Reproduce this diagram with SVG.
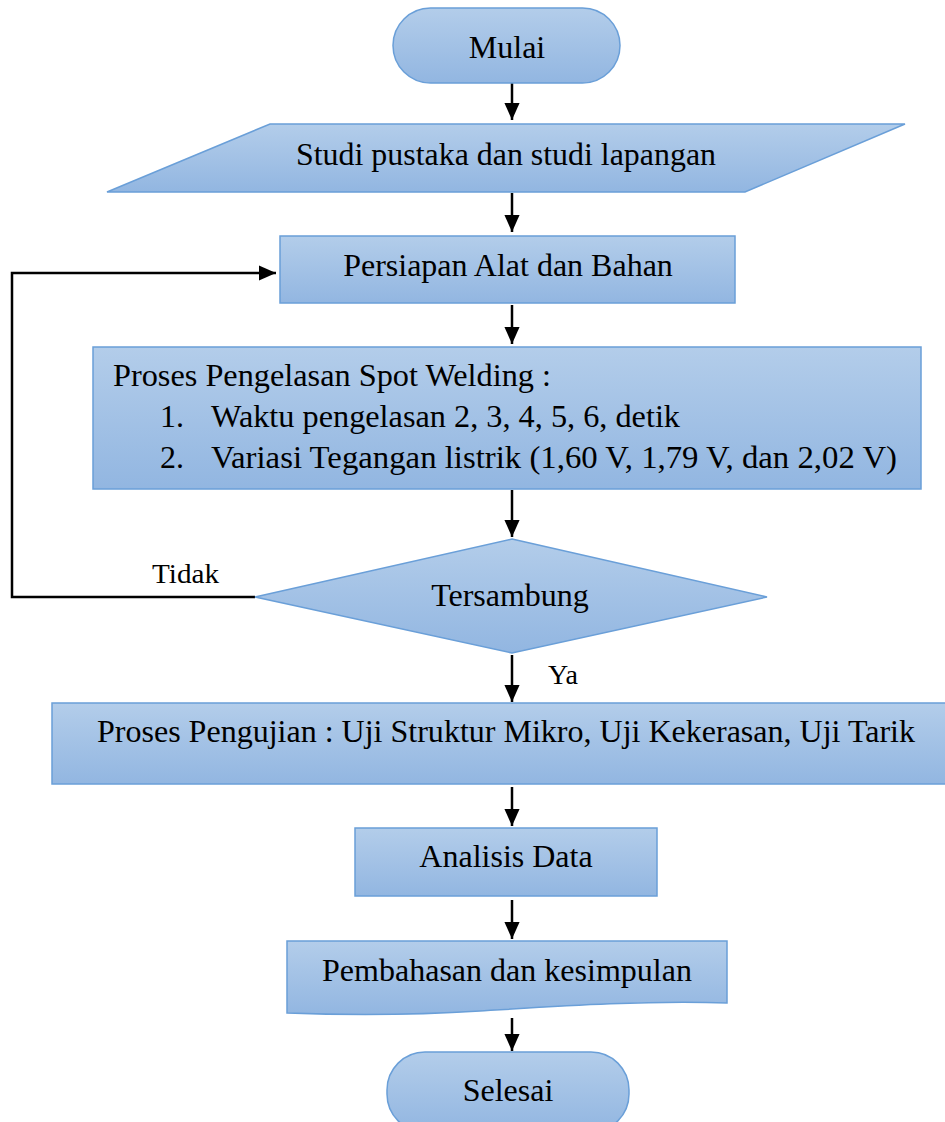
<svg xmlns="http://www.w3.org/2000/svg" width="945" height="1122" viewBox="0 0 945 1122">
<style>
.n{fill:url(#g);stroke:#6a9fd8;stroke-width:1.5}
.t{font-family:"Liberation Serif","Times New Roman",serif;font-size:32px;fill:#000}
.c{stroke:#000;stroke-width:2.5;fill:none}
</style>
<defs>
<linearGradient id="g" x1="0" y1="0" x2="0" y2="1">
<stop offset="0" stop-color="#b3cdea"/>
<stop offset="1" stop-color="#92b6e1"/>
</linearGradient>
<marker id="a" viewBox="0 0 18 16" refX="18" refY="8" markerWidth="7" markerHeight="6.2" markerUnits="strokeWidth" orient="auto">
<path d="M0,0 L18,8 L0,16 z" fill="#000"/>
</marker>
</defs>
<rect width="945" height="1122" fill="#fff"/>
<g id="connectors">
<line class="c" x1="512" y1="78" x2="512" y2="120" marker-end="url(#a)"/>
<line class="c" x1="512" y1="193" x2="512" y2="232" marker-end="url(#a)"/>
<line class="c" x1="512" y1="305" x2="512" y2="344" marker-end="url(#a)"/>
<line class="c" x1="512" y1="490" x2="512" y2="537" marker-end="url(#a)"/>
<polyline class="c" points="255,597 12,597 12,273 276,273" marker-end="url(#a)"/>
<line class="c" x1="512" y1="655" x2="512" y2="702" marker-end="url(#a)"/>
<line class="c" x1="512" y1="787" x2="512" y2="826" marker-end="url(#a)"/>
<line class="c" x1="512" y1="900" x2="512" y2="939" marker-end="url(#a)"/>
<line class="c" x1="512" y1="1018" x2="512" y2="1051" marker-end="url(#a)"/>
</g>
<g id="mulai">
<rect class="n" x="393" y="8" width="227" height="75" rx="37.5"/>
<text class="t" x="507" y="58" text-anchor="middle">Mulai</text>
</g>
<g id="studi">
<polygon class="n" points="270,124 905,124 745,192 107,192"/>
<text class="t" x="506" y="165" text-anchor="middle" textLength="420" lengthAdjust="spacingAndGlyphs">Studi pustaka dan studi lapangan</text>
</g>
<g id="persiapan">
<rect class="n" x="280" y="236" width="455" height="67"/>
<text class="t" x="508" y="276" text-anchor="middle">Persiapan Alat dan Bahan</text>
</g>
<g id="pengelasan">
<rect class="n" x="93" y="347" width="828" height="142"/>
<text class="t" x="113" y="386" textLength="438" lengthAdjust="spacingAndGlyphs">Proses Pengelasan Spot Welding :</text>
<text class="t" x="160" y="427">1.</text>
<text class="t" x="211" y="427" textLength="469" lengthAdjust="spacingAndGlyphs">Waktu pengelasan 2, 3, 4, 5, 6, detik</text>
<text class="t" x="160" y="468">2.</text>
<text class="t" x="211" y="468" textLength="686" lengthAdjust="spacingAndGlyphs">Variasi Tegangan listrik (1,60 V, 1,79 V, dan 2,02 V)</text>
</g>
<g id="tersambung">
<polygon class="n" points="512,539 767,597 512,653 255,597"/>
<text class="t" x="510" y="606" text-anchor="middle">Tersambung</text>
</g>
<g id="labels">
<text class="t" x="152" y="583" style="font-size:28px" textLength="67" lengthAdjust="spacingAndGlyphs">Tidak</text>
<text class="t" x="548" y="684" style="font-size:28px">Ya</text>
</g>
<g id="pengujian">
<rect class="n" x="52" y="703" width="900" height="81"/>
<text class="t" x="97" y="742" textLength="818" lengthAdjust="spacingAndGlyphs">Proses Pengujian : Uji Struktur Mikro, Uji Kekerasan, Uji Tarik</text>
</g>
<g id="analisis">
<rect class="n" x="355" y="828" width="302" height="68"/>
<text class="t" x="506" y="867" text-anchor="middle">Analisis Data</text>
</g>
<g id="pembahasan">
<path class="n" d="M287,941 H727 V1003 C650,1000 560,1006 480,1011 C400,1016 340,1015 287,1013 Z"/>
<text class="t" x="507" y="981" text-anchor="middle" textLength="370" lengthAdjust="spacingAndGlyphs">Pembahasan dan kesimpulan</text>
</g>
<g id="selesai">
<rect class="n" x="387" y="1052" width="242" height="80" rx="38"/>
<text class="t" x="508" y="1101" text-anchor="middle">Selesai</text>
</g>
</svg>
